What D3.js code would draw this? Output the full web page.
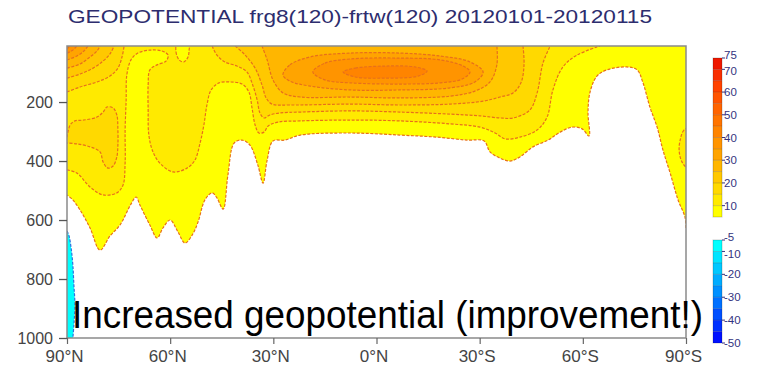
<!DOCTYPE html>
<html>
<head>
<meta charset="utf-8">
<script src="https://cdn.jsdelivr.net/npm/d3@7"></script>
<style>
  body { margin: 0; background: #fff; }
  svg { display: block; font-family: "Liberation Sans", Arial, sans-serif; }
</style>
</head>
<body>
<script>
// colour scale of the contour bands
const posLevels = [5, 10, 15, 20, 25, 30, 35, 40, 45, 50, 55, 60, 65, 70, 75];
const posColors = ["#ffff00", "#ffea00", "#ffd900", "#ffc800", "#ffb600", "#ffa400", "#ff9400",
  "#ff8400", "#ff7400", "#ff6400", "#ff5400", "#ff4200", "#f82e00", "#ee1800"];
const posLabels = [10, 20, 30, 40, 50, 60, 70, 75];
const negLevels = [-5, -10, -15, -20, -25, -30, -35, -40, -45, -50];
const negColors = ["#00ffff", "#00e4ff", "#00c8ff", "#00acff", "#0090ff", "#0070ff", "#0050ff", "#0030ff", "#0010ff"];
const negLabels = [-5, -10, -20, -30, -40, -50];

const latTicks = [90, 60, 30, 0, -30, -60, -90];
const latLabels = ["90°N", "60°N", "30°N", "0°N", "30°S", "60°S", "90°S"];
const presTicks = [200, 400, 600, 800, 1000];

// contour lines, [latitude (N +), pressure hPa]
const c5 = [[-90,627],[-89.7,590],[-87.7,532],[-85.4,441],[-83.3,363],[-81.6,285],[-79.5,217],[-77.5,135],
  [-75.8,91],[-72.8,81],[-67,91],[-64.1,112],[-62.1,166],[-61.5,234],[-61.8,315],[-59.8,291],[-56.9,285],
  [-53.4,302],[-49.9,329],[-45.5,352],[-41.7,386],[-38.8,400],[-35.9,390],[-33,369],[-31.3,332],[-26.3,329],
  [-17.6,319],[-6.8,312],[7.7,305],[22.2,312],[26.6,329],[30.1,332],[31.8,397],[33,475],[34.5,414],[36.8,346],
  [39.1,329],[41.4,339],[43.2,447],[44.6,563],[46.4,525],[47.8,508],[49.9,532],[51.9,607],[53.6,651],[55.7,678],
  [57.7,641],[60,600],[62.1,627],[63.8,661],[65.9,617],[68.8,549],[69.9,522],[71.4,546],[74.6,617],[77.5,654],
  [80.4,702],[83.3,627],[86.2,566],[88.3,532],[90,515]];
const c10 = [[90,430],[87.1,441],[83.3,488],[79.5,515],[75.5,508],[73.7,481],[73.1,407],[73.1,295],[72.8,193],
  [72.6,108],[71.4,57],[69.4,34],[65.9,24],[62.4,27],[60.6,41],[61.2,61],[63.8,74],[65.9,91],[66.4,142],
  [66.4,227],[66.2,312],[65,369],[63,407],[59.2,437],[55.1,424],[52.8,397],[51.3,339],[50.2,278],[49.3,210],
  [48.1,159],[45.8,135],[42.6,132],[39.1,139],[37.1,166],[36.2,220],[35.3,278],[34.2,305],[32.7,302],[31.5,281],
  [28.6,268],[22.2,264],[7.7,261],[-6.8,264],[-21.4,274],[-30.1,285],[-34.5,305],[-37.4,325],[-41.7,319],
  [-46.7,295],[-49.6,251],[-51.3,159],[-54.2,81],[-58.3,41],[-65,10]];
const c5island = [[58,3],[58.3,30],[57.4,57],[56,64],[54.8,47],[54.5,24],[54.5,3]];
const c10edge = [[-91.2,288],[-89.4,295],[-88.3,329],[-88,363],[-88.6,397],[-90,420],[-91.2,420]];
const c15nh = [[90,166],[86.2,149],[81.3,132],[77.5,112],[75.2,85],[74,47],[73.4,10]];
const c15blob = [[90,319],[89.1,278],[87.7,264],[85.1,261],[81.3,251],[79.5,234],[78.4,217],[76.6,220],
  [75.5,244],[75.2,295],[75.2,346],[75.5,386],[76.6,417],[78.1,424],[79.5,403],[80.4,369],[83.3,352],
  [87.1,342],[90,339]];
const c15 = [[47.8,10],[46.4,41],[44.1,64],[40.6,78],[37.7,98],[36,142],[34.7,193],[33.9,237],[32.7,254],
  [31,244],[28.1,237],[22.2,234],[7.7,230],[-6.8,234],[-21.4,241],[-30.1,247],[-35.9,254],[-39.7,254],
  [-44.6,227],[-46.7,169],[-48.4,68],[-50.5,10]];
const c20nh = [[90,119],[86.2,105],[82.4,85],[79.5,61],[77.5,37],[76.3,10]];
const c20 = [[41.1,10],[38.2,41],[35.3,85],[33.3,142],[32.1,186],[30.4,207],[25.2,210],[7.7,207],[-6.8,210],
  [-21.4,207],[-31,197],[-35.9,183],[-39.7,169],[-42,135],[-42.9,74],[-42.6,10]];
const c25nh = [[90,85],[86.2,71],[83.3,47],[81.3,27],[80.4,10]];
const c25 = [[33.3,10],[31.8,57],[30.1,125],[27.2,169],[22.2,183],[7.7,183],[-6.8,186],[-21.4,180],
  [-28.6,163],[-33,132],[-35,74],[-35,10]];
const c30nh = [[90,57],[87.1,44],[85.1,27],[83.9,10]];
const c30 = [[27.2,108],[25.2,74],[19.3,47],[7.7,34],[-6.8,34],[-18.5,44],[-27.2,64],[-31,98],[-28.6,132],
  [-21.4,152],[-6.8,159],[7.7,159],[19.3,146],[25.2,129]];
const c35nh = [[90,34],[88.3,24],[87.1,10]];
const c35 = [[18.5,98],[15,68],[7.7,54],[-6.8,51],[-18.5,57],[-25.2,78],[-27.2,98],[-24.9,122],[-18.5,135],
  [-6.8,139],[7.7,135],[15,125]];
const c40nh = [[90,20],[89.1,10]];
const c40 = [[9.7,98],[6.2,85],[-2.5,78],[-11.2,81],[-14.7,95],[-12.1,112],[-2.5,119],[6.2,115]];
const cNeg5 = [[90,637],[89.4,654],[88.8,695],[88.3,753],[88,820],[87.7,888],[88,956],[88.3,1000]];

// drawing order (low to high), with frame corners that close each region
const regions = [
  { level: 5, pts: c5, via: [[90, 10], [-90, 10]] },
  { level: 10, pts: c10, via: [[90, 10]] },
  { level: 5, pts: c5island, closed: true },
  { level: 10, pts: c10edge, closed: true },
  { level: 15, pts: c15nh, via: [[90, 10]] },
  { level: 15, pts: c15blob, via: [] },
  { level: 15, pts: c15, via: [] },
  { level: 20, pts: c20nh, via: [[90, 10]] },
  { level: 20, pts: c20, via: [] },
  { level: 25, pts: c25nh, via: [[90, 10]] },
  { level: 25, pts: c25, via: [] },
  { level: 30, pts: c30nh, via: [[90, 10]] },
  { level: 30, pts: c30, closed: true },
  { level: 35, pts: c35nh, via: [[90, 10]] },
  { level: 35, pts: c35, closed: true },
  { level: 40, pts: c40nh, via: [[90, 10]] },
  { level: 40, pts: c40, closed: true },
  { level: -5, pts: cNeg5, via: [[90, 1000]] }
];

const width = 760, height = 369;
const plot = { left: 67, right: 686, top: 46, bottom: 338 };

const svg = d3.select("body").append("svg")
  .attr("width", width)
  .attr("height", height);

const x = d3.scaleLinear().domain([90, -90]).range([plot.left, plot.right]);
const y = d3.scaleLinear().domain([10, 1000]).range([plot.top, plot.bottom]);

const colorOf = lev => lev > 0
  ? posColors[posLevels.indexOf(lev)]
  : negColors[negLevels.indexOf(lev)];

svg.append("clipPath").attr("id", "plot-clip")
  .append("rect")
  .attr("x", plot.left).attr("y", plot.top)
  .attr("width", plot.right - plot.left).attr("height", plot.bottom - plot.top);

const openLine = d3.line().x(d => x(d[0])).y(d => y(d[1])).curve(d3.curveCatmullRom);
const closedLine = d3.line().x(d => x(d[0])).y(d => y(d[1])).curve(d3.curveCatmullRomClosed);

function fillPath(r) {
  if (r.closed) return closedLine(r.pts);
  return openLine(r.pts) + r.via.map(p => `L${x(p[0])},${y(p[1])}`).join("") + "Z";
}
function strokePath(r) {
  return r.closed ? closedLine(r.pts) : openLine(r.pts);
}

const field = svg.append("g").attr("clip-path", "url(#plot-clip)");

field.selectAll("path.band")
  .data(regions)
  .join("path")
  .attr("class", "band")
  .attr("d", fillPath)
  .attr("fill", d => colorOf(d.level))
  .attr("stroke", "none");

field.selectAll("path.iso")
  .data(regions)
  .join("path")
  .attr("class", "iso")
  .attr("d", strokePath)
  .attr("fill", "none")
  .attr("stroke", d => d.level > 0 ? "#e8701a" : "#2f6fe0")
  .attr("stroke-width", 1.2)
  .attr("stroke-dasharray", "3,1.5");

// frame
svg.append("rect")
  .attr("x", plot.left).attr("y", plot.top)
  .attr("width", plot.right - plot.left).attr("height", plot.bottom - plot.top)
  .attr("fill", "none")
  .attr("stroke", "#8a8a8a")
  .attr("stroke-width", 1.5);

// axes
const yAxis = svg.append("g")
  .attr("transform", `translate(${plot.left},0)`)
  .call(d3.axisLeft(y).tickValues(presTicks).tickSize(8).tickPadding(6).tickFormat(d3.format("d")));
yAxis.select(".domain").remove();
yAxis.selectAll("line").attr("stroke", "#555").attr("stroke-width", 1.3);
yAxis.selectAll("text")
  .attr("fill", "#444")
  .style("font-size", "16px")
  .style("font-family", "'Liberation Sans', Arial, sans-serif");

const xAxis = svg.append("g")
  .attr("transform", `translate(0,${plot.bottom})`)
  .call(d3.axisBottom(x).tickValues(latTicks).tickSize(6).tickPadding(6)
    .tickFormat((d, i) => latLabels[i]));
xAxis.select(".domain").remove();
xAxis.selectAll("line").attr("stroke", "#666").attr("stroke-width", 1.2);
xAxis.selectAll("text")
  .attr("fill", "#444")
  .attr("dx", -3)
  .style("font-size", "17px")
  .style("font-family", "'Liberation Sans', Arial, sans-serif");

// colour bars
const barX = 713, barW = 9;
const posScale = d3.scaleLinear().domain([5, 75]).range([217, 58]);
const negScale = d3.scaleLinear().domain([-5, -50]).range([240, 343]);
// small nudges so the crowded end labels do not sit on each other
const labelNudge = { "75": -3.5, "70": 2, "-5": -3.5, "-10": 2 };

function drawBar(levels, colors, scale, labels) {
  const g = svg.append("g");
  g.selectAll("rect")
    .data(colors)
    .join("rect")
    .attr("x", barX)
    .attr("width", barW)
    .attr("y", (c, i) => Math.min(scale(levels[i]), scale(levels[i + 1])))
    .attr("height", (c, i) => Math.abs(scale(levels[i]) - scale(levels[i + 1])))
    .attr("fill", c => c);
  g.selectAll("line.sep")
    .data(levels.slice(1, -1))
    .join("line")
    .attr("class", "sep")
    .attr("x1", barX).attr("x2", barX + barW)
    .attr("y1", d => scale(d)).attr("y2", d => scale(d))
    .attr("stroke", "#000").attr("stroke-opacity", 0.22).attr("stroke-width", 0.8);
  g.append("rect")
    .attr("x", barX).attr("width", barW)
    .attr("y", Math.min(scale.range()[0], scale.range()[1]))
    .attr("height", Math.abs(scale.range()[0] - scale.range()[1]))
    .attr("fill", "none").attr("stroke", "#000").attr("stroke-opacity", 0.2);
  g.selectAll("line.tick")
    .data(labels)
    .join("line")
    .attr("class", "tick")
    .attr("x1", barX + barW).attr("x2", barX + barW + 3)
    .attr("y1", d => scale(d)).attr("y2", d => scale(d))
    .attr("stroke", "#333380");
  g.selectAll("text")
    .data(labels)
    .join("text")
    .attr("x", barX + barW + 2)
    .attr("y", d => scale(d) + (labelNudge[d] || 0))
    .attr("dy", "0.36em")
    .attr("fill", "#333380")
    .style("font-size", "11.5px")
    .text(d => d);
}
drawBar(posLevels, posColors, posScale, posLabels);
drawBar(negLevels, negColors, negScale, negLabels);

// title
svg.append("text")
  .attr("x", 68)
  .attr("y", 23)
  .attr("fill", "#2d2d6e")
  .attr("textLength", 584)
  .attr("lengthAdjust", "spacingAndGlyphs")
  .style("font-size", "19px")
  .text("GEOPOTENTIAL  frg8(120)-frtw(120)  20120101-20120115");

// annotation
svg.append("text")
  .attr("x", 72)
  .attr("y", 328)
  .attr("fill", "#000")
  .attr("textLength", 631)
  .attr("lengthAdjust", "spacingAndGlyphs")
  .style("font-size", "38px")
  .text("Increased geopotential (improvement!)");
</script>
</body>
</html>
